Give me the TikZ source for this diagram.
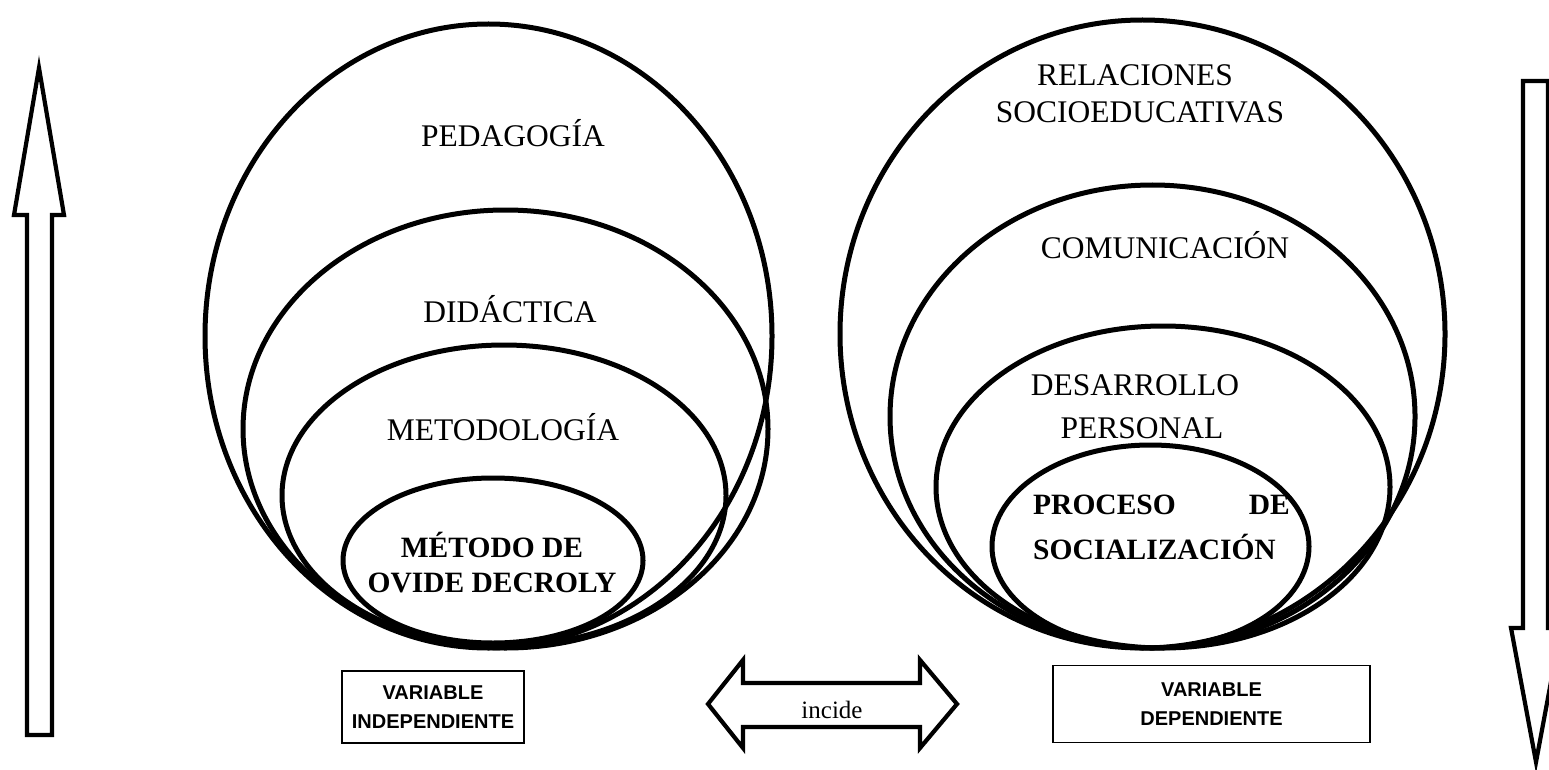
\documentclass[tikz,border=0pt]{standalone}
\usepackage{fontspec}
\setmainfont{Liberation Serif}
\setsansfont{Liberation Sans}
\usetikzlibrary{shapes.geometric}
\begin{document}
\begin{tikzpicture}[x=1pt,y=-1pt,
  ring/.style={draw, ellipse, line width=5pt, inner sep=0pt, outer sep=0pt},
  lbl/.style={font=\fontsize{31.5}{36}\selectfont, inner sep=0pt},
  blbl/.style={font=\bfseries\fontsize{29.5}{34}\selectfont, inner sep=0pt},
  hollow/.style={draw, line width=4.2pt, line join=miter, fill=white},
  varbox/.style={draw, line width=1.3pt, font=\sffamily\bfseries\fontsize{20}{29}\selectfont, align=center, inner sep=0pt},
]
\useasboundingbox[fill=white] (0,0) rectangle (1549,770);

% left group of ellipses
\node[ring, minimum width=567pt, minimum height=624pt] (e1) at (488.5,336) {};
\node[ring, minimum width=525pt, minimum height=438pt] (e2) at (505.5,429) {};
\node[ring, minimum width=444pt, minimum height=301pt] (e3) at (504,495.5) {};
\node[ring, minimum width=300pt, minimum height=165pt] (e4) at (493,560.5) {};

% right group of ellipses
\node[ring, minimum width=605pt, minimum height=628pt] (r1) at (1142.5,334) {};
\node[ring, minimum width=525pt, minimum height=463pt] (r2) at (1152.5,416.5) {};
\node[ring, minimum width=454pt, minimum height=322pt] (r3) at (1163,487) {};
\node[ring, minimum width=317pt, minimum height=203pt] (r4) at (1150.5,546.5) {};

% left labels
\node[lbl] (t1) at (513,133) {PEDAGOGÍA};
\node[lbl] (t2) at (510,309) {DIDÁCTICA};
\node[lbl] (t3) at (503,427) {METODOLOGÍA};
\node[blbl] (t4a) at (492,545) {MÉTODO DE};
\node[blbl] (t4b) at (492,583) {OVIDE DECROLY};

% right labels
\node[lbl] (s1a) at (1135,75) {RELACIONES};
\node[lbl] (s1b) at (1140,112) {SOCIOEDUCATIVAS};
\node[lbl] (s2) at (1165,245) {COMUNICACIÓN};
\node[lbl] (s3a) at (1135,385) {DESARROLLO};
\node[lbl] (s3b) at (1142,428) {PERSONAL};
\node[blbl, anchor=west] (s4a) at (1033,505) {PROCESO};
\node[blbl, anchor=east] (s4b) at (1290,505) {DE};
\node[blbl, anchor=west] (s4c) at (1033,547) {SOCIALIZACIÓN};

% vertical arrows
\draw[hollow] (39,68) -- (64,215) -- (52,215) -- (52,735) -- (27,735) -- (27,215) -- (14,215) -- cycle;
\draw[hollow] (1523,81) -- (1548,81) -- (1548,628) -- (1561,628) -- (1536,762) -- (1511,628) -- (1523,628) -- cycle;

% double arrow
\draw[hollow] (708,704) -- (743,660) -- (743,683) -- (920,683) -- (920,660) -- (957,704)
  -- (920,748) -- (920,727) -- (743,727) -- (743,748) -- cycle;
\node[font=\fontsize{25}{30}\selectfont, inner sep=0pt] (inc) at (832,710) {incide};

% boxes
\node[varbox, minimum width=182pt, minimum height=72pt] (vi) at (433,707) {VARIABLE\\INDEPENDIENTE};
\node[varbox, minimum width=317pt, minimum height=77pt] (vd) at (1211.5,704) {VARIABLE\\DEPENDIENTE};
\end{tikzpicture}
\end{document}
